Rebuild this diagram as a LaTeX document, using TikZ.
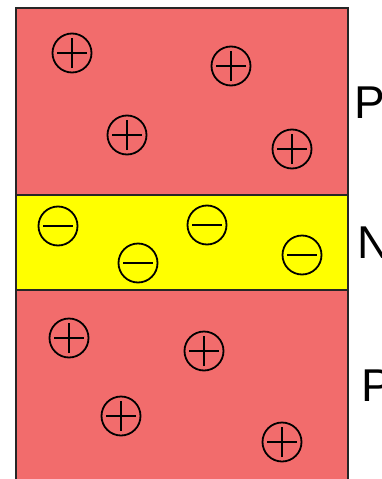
\documentclass[tikz,border=0pt]{standalone}
\usepackage{fontspec}
\setmainfont{Liberation Sans}
\definecolor{pside}{RGB}{242,108,108}
\definecolor{nside}{RGB}{255,255,0}
\tikzset{
  hole/.style={circle,draw,line width=1.8pt,minimum size=39pt,inner sep=0pt,
    path picture={\draw[line width=1.8pt] ([xshift=-15pt]path picture bounding box.center)--([xshift=15pt]path picture bounding box.center);
      \draw[line width=1.8pt] ([yshift=-15pt]path picture bounding box.center)--([yshift=15pt]path picture bounding box.center);}},
  donor/.style={circle,draw,line width=1.8pt,minimum size=39pt,inner sep=0pt,
    path picture={\draw[line width=1.8pt] ([xshift=-15pt]path picture bounding box.center)--([xshift=15pt]path picture bounding box.center);}},
  region/.style={font=\fontsize{46}{46}\selectfont,anchor=west,inner sep=0pt}
}
\begin{document}
\begin{tikzpicture}[x=1pt,y=-1pt]
\clip (0,0) rectangle (382,479);
\fill[white] (0,0) rectangle (382,479);
\fill[pside] (16,8) rectangle (348,195);
\fill[nside] (16,195) rectangle (348,290);
\fill[pside] (16,290) rectangle (348,490);
\draw[line width=1.2pt,black!85] (16,490)--(16,8)--(348,8)--(348,490);
\draw[line width=1.2pt,black!85] (16,195)--(348,195);
\draw[line width=1.2pt,black!85] (16,290)--(348,290);
% top p layer
\node[hole] (pa) at (72,53) {};
\node[hole] (pb) at (231,66) {};
\node[hole] (pc) at (127,135) {};
\node[hole] (pd) at (292,149) {};
% n layer
\node[donor] (na) at (58,226) {};
\node[donor] (nb) at (138,263) {};
\node[donor] (nc) at (207,225) {};
\node[donor] (nd) at (302,255) {};
% bottom p layer
\node[hole] (qa) at (69,338) {};
\node[hole] (qb) at (204,351) {};
\node[hole] (qc) at (121,416) {};
\node[hole] (qd) at (282,442) {};
% labels
\node[region] (ptop) at (354,103) {P};
\node[region] (nmid) at (357,243) {N};
\node[region] (pbot) at (361,386) {P};
\end{tikzpicture}
\end{document}
